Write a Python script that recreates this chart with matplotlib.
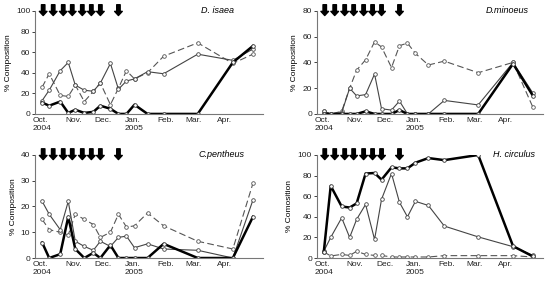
import matplotlib
matplotlib.use("Agg")
import matplotlib.pyplot as plt

# sampling dates, days after 1 Oct 2004
days = [0, 7, 18, 26, 33, 42, 51, 58, 68, 76, 84, 92, 105, 121, 155, 190, 210]
spray_days = [1, 11, 21, 30, 40, 49, 58, 76]

month_days = [0, 31, 61, 92, 123, 151, 182]
month_labels = ["Oct.\n2004", "Nov.", "Dec.", "Jan.\n2005", "Feb.", "Mar.", "Apr."]

# D. isaea
isaea_thick = [11, 8, 12, 1, 4, 1, 2, 8, 5, 0, 0, 9, 0, 0, 0, 50, 66]
isaea_thin = [13, 23, 42, 50, 28, 23, 22, 30, 49, 24, 32, 34, 41, 39, 58, 52, 63]
isaea_dash = [26, 39, 18, 17, 28, 12, 22, 30, 9, 25, 42, 34, 40, 56, 69, 49, 58]

# D. minoeus
minoeus_thick = [0, 0, 0, 0, 0, 2, 0, 0, 0, 3, 0, 0, 0, 0, 0, 39, 14]
minoeus_thin = [2, 0, 1, 20, 14, 15, 31, 4, 3, 10, 0, 0, 0, 10.5, 7, 40, 16]
minoeus_dash = [2, 0, 2, 20, 34, 42, 56, 52, 36, 53, 55, 47, 38, 41, 32, 40, 5]

# C. pentheus
pentheus_thick = [6, 0, 1.5, 16, 3.5, 0, 2, 0, 5, 0, 0, 0, 0, 5.5, 0, 0, 16]
pentheus_thin = [22, 17, 11, 22, 6.5, 4.5, 3, 6.5, 4.5, 8, 8.5, 4, 5.5, 3.5, 3, 0, 22.5]
pentheus_dash = [15, 11, 10, 9, 17, 15, 13, 8, 10, 17, 12, 12.5, 17.5, 12.5, 6.5, 3.5, 29]

# H. circulus
circulus_thick = [5.5, 70, 50, 49, 53, 82, 82.5, 76, 88, 87, 87, 92.5, 97, 95, 100, 11.5, 1.5]
circulus_thin = [6.5, 20, 39, 20, 37.5, 52, 18, 57, 82, 54, 40, 55, 51, 31, 20.5, 11, 2.5]
circulus_dash = [6, 2, 3.5, 2.5, 6.5, 3.5, 2.5, 2.5, 1, 1, 1, 1, 1, 2.3, 2.3, 2.3, 1]

panels = [
    ("D. isaea", "% Composition", 100, 20, isaea_thick, isaea_thin, isaea_dash, 0.80),
    ("D.minoeus", "% Composition", 80, 20, minoeus_thick, minoeus_thin, minoeus_dash, 0.84),
    ("C.pentheus", "% Composition", 40, 10, pentheus_thick, pentheus_thin, pentheus_dash, 0.82),
    ("H. circulus", "% Comosition", 100, 20, circulus_thick, circulus_thin, circulus_dash, 0.87),
]

plt.rcParams["font.family"] = "Liberation Sans"
fig = plt.figure(figsize=(5.49, 2.87), dpi=100)

boxes = [
    [0.064, 0.603, 0.415, 0.359],
    [0.577, 0.603, 0.412, 0.359],
    [0.064, 0.101, 0.415, 0.359],
    [0.577, 0.101, 0.412, 0.359],
]

mk = dict(marker="o", markersize=2.6, markerfacecolor="white", markeredgewidth=0.6)

for box, (name, ylab, ymax, ystep, thick, thin, dash, tx) in zip(boxes, panels):
    ax = fig.add_axes(box)
    ax.plot(days, dash, color="#555555", lw=0.8, ls=(0, (6, 3)), markeredgecolor="#555555", **mk)
    ax.plot(days, thin, color="#444444", lw=0.8, markeredgecolor="#444444", **mk)
    ax.plot(days, thick, color="black", lw=1.8, markeredgecolor="#333333", **mk)

    ax.set_xlim(-7, 220)
    ax.set_ylim(0, ymax)
    ax.set_yticks(range(0, ymax + 1, ystep))
    ax.set_xticks(month_days)
    ax.set_xticklabels(month_labels, ha="center", multialignment="left")
    ax.tick_params(axis="x", length=0, labelsize=6, pad=2, colors="#222222")
    ax.tick_params(axis="y", length=2, width=0.6, labelsize=6, pad=1.5, colors="#222222")
    for s in ["top", "right"]:
        ax.spines[s].set_visible(False)
    for s in ["left", "bottom"]:
        ax.spines[s].set_color("#777777")
        ax.spines[s].set_linewidth(0.8)
    ax.set_ylabel(ylab, fontsize=6, labelpad=3)

    ax.text(tx, 1.0, name, transform=ax.transAxes, fontsize=6.5, style="italic",
            ha="center", va="center")

    # spray arrows
    for d in spray_days:
        ax.annotate("", xy=(d, 0.955), xycoords=("data", "axes fraction"),
                    xytext=(d, 1.06), textcoords=("data", "axes fraction"),
                    arrowprops=dict(width=2.5, headwidth=5.5, headlength=3.0,
                                    color="black", shrink=0),
                    annotation_clip=False)

fig.savefig("out.png", dpi=100)
